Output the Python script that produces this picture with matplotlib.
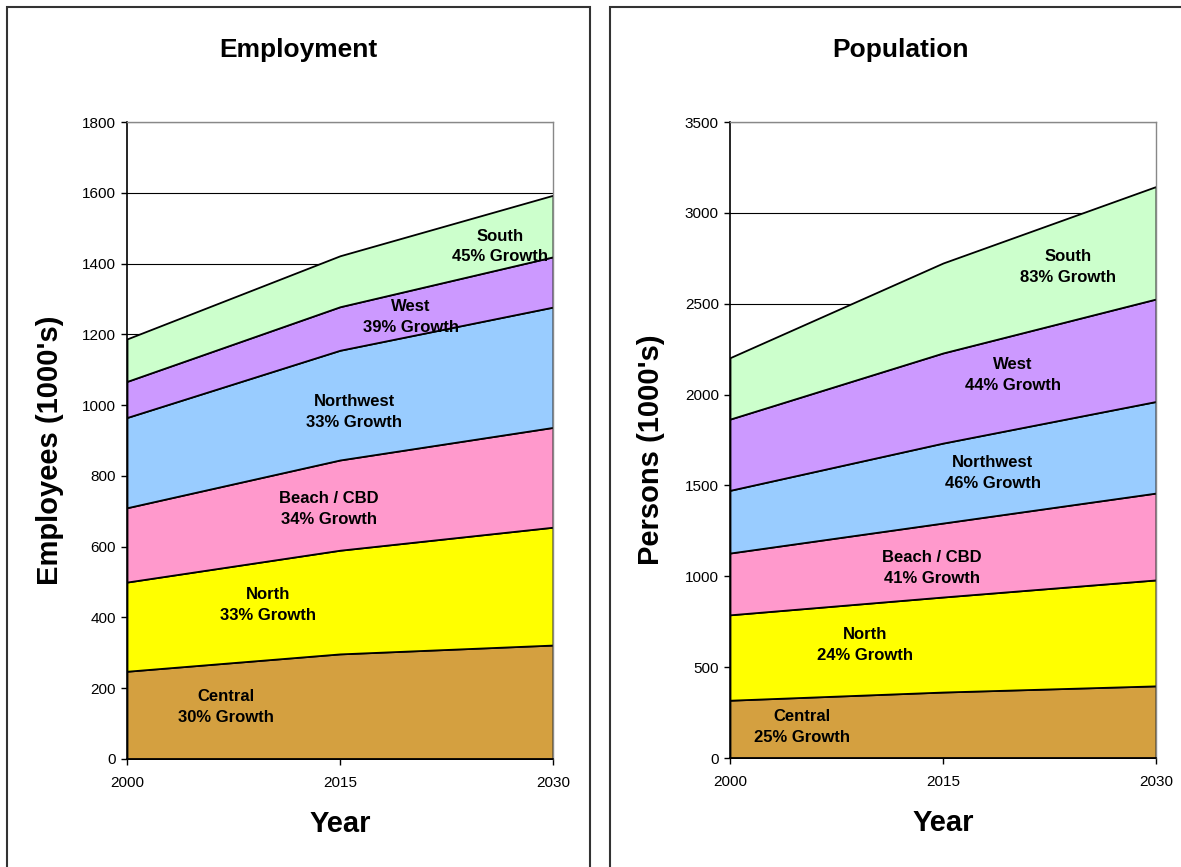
import matplotlib.pyplot as plt
from matplotlib.patches import Rectangle

plt.rcParams['font.family'] = ['Liberation Sans', 'DejaVu Sans']

years = [2000, 2015, 2030]
regions = ["Central", "North", "Beach / CBD", "Northwest", "West", "South"]
colors = ["#D4A040", "#FFFF00", "#FF99CC", "#99CCFF", "#CC99FF", "#CCFFCC"]

# employment by region, thousands (stacked bottom to top)
emp_central = [248, 297, 322]
emp_north = [252, 293, 333]
emp_beach = [210, 255, 282]
emp_northwest = [255, 310, 340]
emp_west = [102, 123, 142]
emp_south = [120, 144, 174]
emp_growth = ["30%", "33%", "34%", "33%", "39%", "45%"]

# population by region, thousands
pop_central = [318, 363, 397]
pop_north = [470, 523, 583]
pop_beach = [340, 407, 478]
pop_northwest = [345, 440, 504]
pop_west = [392, 496, 564]
pop_south = [338, 495, 619]
pop_growth = ["25%", "24%", "41%", "46%", "44%", "83%"]

# where the region labels sit (year, value)
emp_label_pos = [(2007.0, 147), (2009.9, 435), (2014.2, 706),
                 (2016.0, 980), (2020.0, 1249), (2026.3, 1449)]
pop_label_pos = [(2005.1, 171), (2009.5, 622), (2014.2, 1046),
                 (2018.5, 1568), (2019.9, 2108), (2023.8, 2702)]

fig = plt.figure(figsize=(11.81, 8.67), dpi=100)
W, H = 1181, 867

# panel frames
for x0, x1 in [(7, 590), (610, 1190)]:
    fig.patches.append(Rectangle((x0 / W, -0.05), (x1 - x0) / W, 1.05 - 7 / H,
                                 transform=fig.transFigure, fill=False,
                                 edgecolor="#333333", linewidth=1.5))


def draw_panel(rect, series, growth, label_pos, ymax, ystep, ylabel, title,
               title_x, ylabel_x):
    ax = fig.add_axes(rect)
    ax.stackplot(years, *series, colors=colors, edgecolor="black",
                 linewidth=1.3, zorder=2)
    ax.set_xlim(2000, 2030)
    ax.set_ylim(0, ymax)
    ax.set_xticks(years)
    ax.set_yticks(range(0, ymax + 1, ystep))
    ax.tick_params(labelsize=11, direction="out", length=4, width=1, pad=4)
    ax.tick_params(axis="x", pad=8)
    ax.grid(axis="y", color="black", linewidth=0.8, zorder=0)
    ax.set_axisbelow(True)
    for side in ["left", "bottom"]:
        ax.spines[side].set_color("black")
        ax.spines[side].set_linewidth(1.2)
    for side in ["top", "right"]:
        ax.spines[side].set_color("#888888")
        ax.spines[side].set_linewidth(1.0)
    ax.set_ylabel(ylabel, fontsize=21, fontweight="bold")
    ax.yaxis.set_label_coords(ylabel_x, 0.485)
    ax.set_xlabel("Year", fontsize=21, fontweight="bold")
    ax.xaxis.set_label_coords(0.5, -0.08)
    for name, g, (lx, ly) in zip(regions, growth, label_pos):
        ax.text(lx, ly, f"{name}\n{g} Growth", ha="center", va="center",
                fontsize=12, fontweight="bold", linespacing=1.45, zorder=5)
    fig.text(title_x / W, 1 - 50 / H, title, ha="center", va="center",
             fontsize=19, fontweight="bold")
    return ax


draw_panel([127 / W, 1 - 759 / H, 426 / W, 637 / H],
           [emp_central, emp_north, emp_beach, emp_northwest, emp_west, emp_south],
           emp_growth, emp_label_pos, 1800, 200, "Employees (1000's)",
           "Employment", 298, -0.148)

draw_panel([730 / W, 1 - 758 / H, 426 / W, 636 / H],
           [pop_central, pop_north, pop_beach, pop_northwest, pop_west, pop_south],
           pop_growth, pop_label_pos, 3500, 500, "Persons (1000's)",
           "Population", 901, -0.153)

fig.savefig("out.png", dpi=100)
